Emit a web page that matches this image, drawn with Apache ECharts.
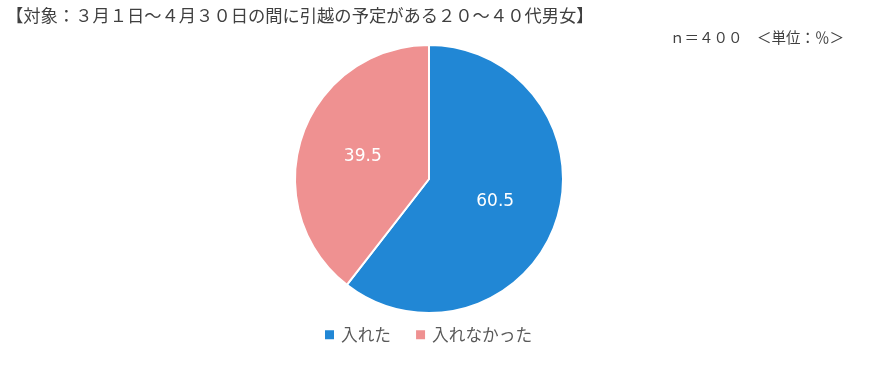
<!DOCTYPE html>
<html><head><meta charset="utf-8">
<script src="https://cdn.jsdelivr.net/npm/echarts@6/dist/echarts.min.js"></script>
<style>html,body{margin:0;padding:0;background:#fff}#c{width:871px;height:373px}</style>
</head><body><div id="c"></div>
<script>
const categories = ['入れた', '入れなかった'];
const values = [60.5, 39.5];
const sliceColors = ['#2187D5', '#EF9191'];
const titleText = '【対象：３月１日～４月３０日の間に引越の予定がある２０～４０代男女】';
const noteText = 'ｎ＝４００　＜単位：％＞';

const chart = echarts.init(document.getElementById('c'));
chart.setOption({
  animation: false,
  color: sliceColors,
  title: [
    { text: titleText, left: 1, top: 2,
      textStyle: { fontFamily: 'Noto Sans CJK JP', fontSize: 17.3, fontWeight: 'normal', color: '#404040' } },
    { text: noteText, right: 22, top: 25,
      textStyle: { fontFamily: 'Noto Sans CJK JP', fontSize: 14.5, fontWeight: 'normal', color: '#404040' } }
  ],
  legend: {
    bottom: 25, left: 318, icon: 'rect', itemWidth: 11, itemHeight: 11, itemGap: 23,
    textStyle: { fontFamily: 'Noto Sans CJK JP', fontSize: 16.7, color: '#595959', padding: [0,0,0,1] },
    data: categories
  },
  series: [{
    type: 'pie',
    center: [429, 179],
    radius: [0, 134],
    startAngle: 90,
    clockwise: true,
    itemStyle: { borderColor: '#fff', borderWidth: 2 },
    label: { position: 'inner', formatter: p => p.value.toFixed(1),
      color: '#fff', fontSize: 17, fontFamily: 'DejaVu Sans' },
    labelLine: { show: false },
    data: categories.map((c, i) => ({ name: c, value: values[i] }))
  }]
});
</script></body></html>
